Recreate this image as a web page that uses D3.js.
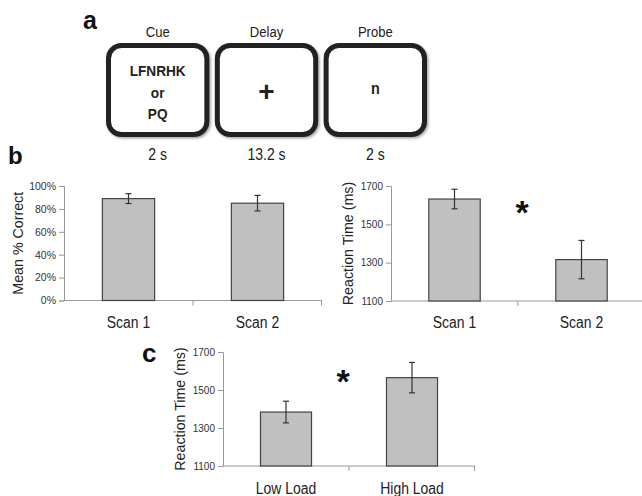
<!DOCTYPE html>
<html><head><meta charset="utf-8">
<script src="https://cdn.jsdelivr.net/npm/d3@7"></script>
<style>body{margin:0;background:#fff}svg{display:block}text{font-family:"Liberation Sans",Arial,sans-serif}</style>
</head><body>
<svg id="c" width="642" height="496"></svg>
<script>
// ---- data ----
const stages = ["Cue", "Delay", "Probe"];
const stageDurations = ["2 s", "13.2 s", "2 s"];
const stageContent = [["LFNRHK", "or", "PQ"], ["+"], ["n"]];

const scanCategories = ["Scan 1", "Scan 2"];
const accuracyValues = [0.89, 0.85];
const accuracyErrors = [0.043, 0.068];
const accuracyTicks = [0, 0.2, 0.4, 0.6, 0.8, 1.0];

const scanRTValues = [1632, 1316];
const scanRTErrors = [51, 100];

const loadCategories = ["Low Load", "High Load"];
const loadRTValues = [1384, 1565];
const loadRTErrors = [57, 80];
const rtTicks = [1100, 1300, 1500, 1700];

// ---- drawing ----
const svg = d3.select("#c");
const ink = "#222";

// condensed text helper (horizontal scale k)
function txt(parent, x, y, s, size, k, bold, anchor) {
  return parent.append("text")
    .attr("transform", `translate(${x},${y}) scale(${k},1)`)
    .attr("text-anchor", anchor || "middle")
    .attr("font-size", size).attr("font-weight", bold ? "bold" : "normal")
    .attr("fill", ink).text(s);
}

// Panel labels
[["a", 83, 29, 25], ["b", 8, 164, 24], ["c", 142, 362, 26]].forEach(([t, x, y, s]) => {
  svg.append("text").attr("x", x).attr("y", y).attr("font-size", s)
    .attr("font-weight", "bold").attr("fill", "#111").text(t);
});

// Panel a: timeline boxes
const boxX = d3.scaleBand().domain(stages).range([106, 427]).paddingInner(0.05);
const defs = svg.append("defs");
const f = defs.append("filter").attr("id", "sh").attr("x", "-10%").attr("y", "-10%").attr("width", "130%").attr("height", "130%");
f.append("feDropShadow").attr("dx", 1.5).attr("dy", 1.5).attr("stdDeviation", 1.2).attr("flood-color", "#000").attr("flood-opacity", 0.35);
stages.forEach((s, i) => {
  const x0 = boxX(s), w = boxX.bandwidth(), cx = x0 + w / 2;
  svg.append("rect").attr("x", x0 + 2.5).attr("y", 45.5).attr("width", w - 5).attr("height", 89)
    .attr("rx", 13).attr("fill", "#fff").attr("stroke", ink).attr("stroke-width", 5)
    .attr("filter", "url(#sh)");
  txt(svg, cx, 37, s, 15, 0.87);
  txt(svg, cx, 160, stageDurations[i], 16.5, 0.85);
  const lines = stageContent[i];
  if (lines.length === 3) {
    lines.forEach((l, j) => txt(svg, cx, 76 + j * 21.5, l, 15.5, 0.88, true));
  } else if (lines[0] === "+") {
    txt(svg, cx, 101, lines[0], 28, 1, true);
  } else {
    txt(svg, cx, 94, lines[0], 16, 0.9, true);
  }
});

function barChart(opt) {
  const g = svg.append("g");
  const x = d3.scaleBand().domain(opt.cats).range(opt.xr);
  const y = d3.scaleLinear().domain(opt.yd).range(opt.yr);
  const axisColor = "#999";
  // x axis
  g.append("line").attr("x1", opt.xr[0]).attr("x2", opt.xr[1]).attr("y1", opt.yr[0]).attr("y2", opt.yr[0])
    .attr("stroke", axisColor).attr("stroke-width", 1);
  opt.cats.forEach((c, i) => {
    if (i > 0) {
      const tx = x(c);
      g.append("line").attr("x1", tx).attr("x2", tx).attr("y1", opt.yr[0]).attr("y2", opt.yr[0] + 5)
        .attr("stroke", axisColor);
    }
  });
  const endX = opt.xr[1];
  g.append("line").attr("x1", endX - 0.5).attr("x2", endX - 0.5).attr("y1", opt.yr[0]).attr("y2", opt.yr[0] + 5)
    .attr("stroke", axisColor);
  // y axis
  const ya = d3.axisLeft(y).tickValues(opt.ticks).tickFormat(opt.fmt).tickSize(5).tickPadding(3);
  const yg = g.append("g").attr("transform", `translate(${opt.xr[0]},0)`).call(ya);
  yg.select(".domain").attr("stroke", axisColor);
  yg.selectAll(".tick line").attr("stroke", axisColor);
  yg.selectAll(".tick text").attr("font-family", '"Liberation Sans",Arial,sans-serif')
    .attr("font-size", opt.tickSize).attr("fill", "#333");
  // bars
  const bw = x.bandwidth() * 0.405;
  opt.vals.forEach((v, i) => {
    const cx = x(opt.cats[i]) + x.bandwidth() / 2;
    g.append("rect").attr("x", cx - bw / 2).attr("y", y(v)).attr("width", bw)
      .attr("height", y(opt.yd[0]) - y(v)).attr("fill", "#c0c0c0").attr("stroke", "#444").attr("stroke-width", 1.2);
    const e = opt.errs[i];
    g.append("line").attr("x1", cx).attr("x2", cx).attr("y1", y(v + e)).attr("y2", y(v - e))
      .attr("stroke", "#333").attr("stroke-width", 1.2);
    [v + e, v - e].forEach(t => g.append("line").attr("x1", cx - 3).attr("x2", cx + 3)
      .attr("y1", y(t)).attr("y2", y(t)).attr("stroke", "#333").attr("stroke-width", 1.2));
    txt(g, cx, opt.catY, opt.cats[i], 16, 0.87);
  });
  // y title
  const ty = (opt.yr[0] + opt.yr[1]) / 2;
  g.append("text").attr("transform", `translate(${opt.titleX},${ty}) rotate(-90) scale(0.95,1)`)
    .attr("text-anchor", "middle").attr("dominant-baseline", "central")
    .attr("font-size", 15).attr("fill", ink).text(opt.title);
  if (opt.star) {
    g.append("text").attr("x", opt.star[0]).attr("y", opt.star[1]).attr("text-anchor", "middle")
      .attr("font-size", 34).attr("font-weight", "bold").attr("fill", "#111").text("*");
  }
}

barChart({cats: scanCategories, vals: accuracyValues, errs: accuracyErrors, xr: [64, 322], yd: [0, 1],
  yr: [300.5, 186], ticks: accuracyTicks, fmt: d3.format(".0%"), tickSize: 10.5, catY: 328,
  title: "Mean % Correct", titleX: 18});
barChart({cats: scanCategories, vals: scanRTValues, errs: scanRTErrors, xr: [391, 645], yd: [1100, 1700],
  yr: [301, 186], ticks: rtTicks, fmt: d3.format("d"), tickSize: 10, catY: 328,
  title: "Reaction Time (ms)", titleX: 348, star: [522, 224]});
barChart({cats: loadCategories, vals: loadRTValues, errs: loadRTErrors, xr: [223, 475], yd: [1100, 1700],
  yr: [466, 352], ticks: rtTicks, fmt: d3.format("d"), tickSize: 10, catY: 494,
  title: "Reaction Time (ms)", titleX: 180, star: [343, 393]});
</script>
</body></html>
